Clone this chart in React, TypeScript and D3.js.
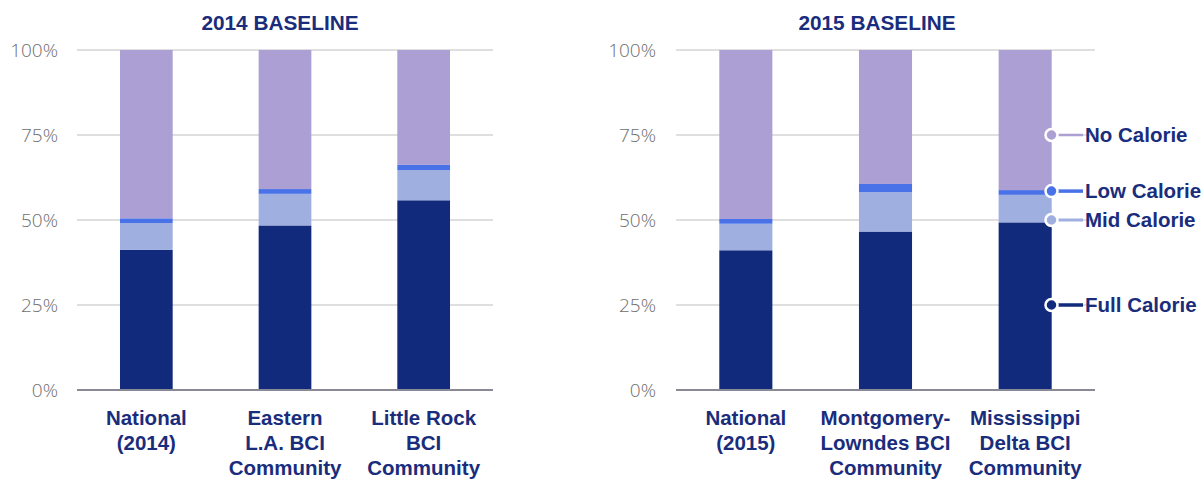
import React from "react";
import * as d3 from "d3";

const seriesKeys = ["full", "mid", "low", "no"];
const seriesColors = ["#112a7c", "#9eafe0", "#4a72e8", "#ab9fd4"];

const categories2014 = [
  ["National", "(2014)"],
  ["Eastern", "L.A. BCI", "Community"],
  ["Little Rock", "BCI", "Community"],
];
const full2014 = [41.2, 48.4, 55.8];
const mid2014 = [7.9, 9.3, 8.9];
const low2014 = [1.4, 1.4, 1.5];
const no2014 = [49.5, 40.9, 33.8];

const categories2015 = [
  ["National", "(2015)"],
  ["Montgomery-", "Lowndes BCI", "Community"],
  ["Mississippi", "Delta BCI", "Community"],
];
const full2015 = [41.1, 46.6, 49.3];
const mid2015 = [7.8, 11.6, 8.1];
const low2015 = [1.4, 2.4, 1.4];
const no2015 = [49.7, 39.4, 41.2];

const yTicks = [0, 25, 50, 75, 100];
const yTickLabels = ["0%", "25%", "50%", "75%", "100%"];

const legendLabels = ["No Calorie", "Low Calorie", "Mid Calorie", "Full Calorie"];
const legendColors = ["#ab9fd4", "#4a72e8", "#9eafe0", "#112a7c"];
const legendAnchors = [75, 58.5, 50, 25];
const legendWidths = [2.5, 3.5, 3, 3.5];

const TEXT_BLUE = "#1a2d7c";
const LABEL_FONT = "'Liberation Sans', Arial, sans-serif";

const y = d3.scaleLinear().domain([0, 100]).range([390, 50]);

function Panel({ title, titleX, x0, x1, labelRight, cats, full, mid, low, no }) {
  const names = cats.map((c) => c.join(" "));
  const rows = names.map((n, i) => ({ name: n, full: full[i], mid: mid[i], low: low[i], no: no[i] }));
  const stacked = d3.stack().keys(seriesKeys)(rows);
  const x = d3.scaleBand().domain(names).range([x0, x1]).paddingInner(0.62).paddingOuter(0.31);
  return (
    <g>
      <text x={titleX} y={30} textAnchor="middle" fontFamily={LABEL_FONT} fontWeight="bold" fontSize={20.8} fill={TEXT_BLUE}>
        {title}
      </text>
      {yTicks.map((t, i) => (
        <g key={t}>
          {t !== 0 && <line x1={x0} x2={x1} y1={y(t)} y2={y(t)} stroke="#d4d4d4" strokeWidth={1.5} />}
          <text x={labelRight} y={y(t)} dy="0.36em" textAnchor="end" fontFamily="'Open Sans', sans-serif" fontWeight={300} fontSize={19} fill="#6e6e6e">
            {yTickLabels[i]}
          </text>
        </g>
      ))}
      {stacked.map((s, si) => (
        <g key={s.key} fill={seriesColors[si]}>
          {s.map((d, i) => (
            <rect key={i} x={x(names[i])} width={x.bandwidth()} y={y(d[1])} height={y(d[0]) - y(d[1])} />
          ))}
        </g>
      ))}
      <line x1={x0} x2={x1} y1={y(0)} y2={y(0)} stroke="#8a8a96" strokeWidth={2} />
      {cats.map((lines, i) => (
        <text key={i} textAnchor="middle" fontFamily={LABEL_FONT} fontWeight="bold" fontSize={20.5} fill={TEXT_BLUE}>
          {lines.map((ln, j) => (
            <tspan key={j} x={x(names[i]) + x.bandwidth() / 2} y={425 + j * 25}>
              {ln}
            </tspan>
          ))}
        </text>
      ))}
    </g>
  );
}

export default function App() {
  const lx = 1051.5;
  return (
    <svg width={1203} height={479} style={{ position: "absolute", left: 0, top: 0, background: "#fff" }}>
      <Panel title="2014 BASELINE" titleX={280} x0={77} x1={493} labelRight={58}
        cats={categories2014} full={full2014} mid={mid2014} low={low2014} no={no2014} />
      <Panel title="2015 BASELINE" titleX={877} x0={676} x1={1095} labelRight={656}
        cats={categories2015} full={full2015} mid={mid2015} low={low2015} no={no2015} />
      {legendLabels.map((lab, i) => (
        <g key={lab}>
          <line x1={lx} x2={1083} y1={y(legendAnchors[i])} y2={y(legendAnchors[i])} stroke={legendColors[i]} strokeWidth={legendWidths[i]} />
          <circle cx={lx} cy={y(legendAnchors[i])} r={6} fill={legendColors[i]} stroke="#fff" strokeWidth={2.5} />
          <text x={1085} y={y(legendAnchors[i])} dy="0.36em" fontFamily={LABEL_FONT} fontWeight="bold" fontSize={20.5} fill={TEXT_BLUE}>
            {lab}
          </text>
        </g>
      ))}
    </svg>
  );
}
